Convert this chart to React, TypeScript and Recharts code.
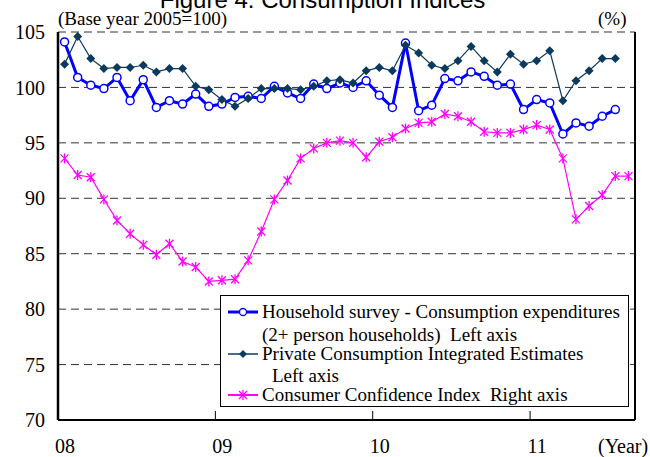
import { CartesianGrid, Line, LineChart, XAxis, YAxis } from "recharts";

// months Jan 2008 .. Aug 2011
const months = Array.from(
  { length: 44 },
  (_, i) => `${2008 + Math.floor(i / 12)}-${String((i % 12) + 1).padStart(2, "0")}`
);
const yearLabels = ["08", "09", "10", "11"];
const yearTicks = [0, 12, 24, 36];
const leftTicks = [70, 75, 80, 85, 90, 95, 100, 105];

const household = [
  104.1, 100.9, 100.2, 99.9, 100.9, 98.8, 100.7, 98.2, 98.8, 98.5, 99.4, 98.3,
  98.5, 99.1, 99.2, 99.0, 100.1, 99.5, 99.0, 100.3, 99.9, 100.4, 100.0, 100.6,
  99.3, 98.2, 104.0, 97.9, 98.4, 100.8, 100.6, 101.4, 101.0, 100.2, 100.3, 98.0,
  98.9, 98.6, 95.8, 96.8, 96.5, 97.4, 98.0, null,
];
const privateCons = [
  102.1, 104.6, 102.6, 101.7, 101.8, 101.8, 102.0, 101.4, 101.7, 101.7, 100.1, 99.8,
  98.9, 98.3, 99.0, 99.9, 99.9, 99.9, 99.8, 100.1, 100.6, 100.7, 100.4, 101.5,
  101.8, 101.5, 103.8, 103.1, 102.0, 101.7, 102.4, 103.7, 102.4, 101.4, 103.0, 102.1,
  102.4, 103.3, 98.8, 100.6, 101.5, 102.6, 102.6, null,
];
// plotted against the right axis (drawn on the same visual scale)
const confidence = [
  93.6, 92.1, 91.9, 89.9, 88.0, 86.8, 85.8, 84.9, 85.9, 84.3, 83.8, 82.5,
  82.6, 82.7, 84.4, 87.0, 89.9, 91.6, 93.6, 94.5, 95.0, 95.2, 95.0, 93.7,
  95.1, 95.5, 96.3, 96.8, 96.9, 97.6, 97.4, 96.9, 96.0, 95.9, 95.9, 96.2,
  96.6, 96.2, 93.6, 88.1, 89.3, 90.3, 92.0, 92.0,
];

const data = months.map((m, i) => ({
  month: m,
  x: i + 0.5,
  household: household[i],
  privateCons: privateCons[i],
  confidence: confidence[i],
}));

const BLUE = "#0000ff";
const NAVY = "#0b3a5e";
const PINK = "#ff00ff";
const SERIF = "'Liberation Serif', 'Times New Roman', serif";

const CircleDot = (p: any) =>
  p.cy == null ? (
    <g key={p.index} />
  ) : (
    <circle key={p.index} cx={p.cx} cy={p.cy} r={4} fill="#fff" stroke={BLUE} strokeWidth={1.5} />
  );

const DiamondDot = (p: any) => {
  if (p.cy == null) return <g key={p.index} />;
  const s = 4.5;
  return (
    <path
      key={p.index}
      d={`M${p.cx},${p.cy - s}L${p.cx + s},${p.cy}L${p.cx},${p.cy + s}L${p.cx - s},${p.cy}Z`}
      fill={NAVY}
    />
  );
};

const StarDot = (p: any) => {
  if (p.cy == null) return <g key={p.index} />;
  const s = 5;
  const d = 4;
  return (
    <g key={p.index} stroke={PINK} strokeWidth={1.3}>
      <line x1={p.cx} y1={p.cy - s} x2={p.cx} y2={p.cy + s} />
      <line x1={p.cx - d} y1={p.cy - d} x2={p.cx + d} y2={p.cy + d} />
      <line x1={p.cx - d} y1={p.cy + d} x2={p.cx + d} y2={p.cy - d} />
    </g>
  );
};

const YearTick = (p: any) => {
  const idx = yearTicks.indexOf(p.payload.value);
  return (
    <g>
      {idx > 0 && <line x1={p.x} y1={420} x2={p.x} y2={411} stroke="#000" strokeWidth={1} />}
      <text
        x={p.x + 7}
        y={453}
        textAnchor="middle"
        fill="#000"
        style={{ fontFamily: SERIF, fontSize: 20 }}
      >
        {yearLabels[idx]}
      </text>
    </g>
  );
};

const LeftTick = (p: any) => (
  <text
    x={p.x}
    y={p.y}
    dy="0.36em"
    textAnchor="end"
    fill="#000"
    style={{ fontFamily: SERIF, fontSize: 20 }}
  >
    {p.payload.value}
  </text>
);

const LegendIcon = ({ kind }: { kind: string }) => (
  <svg width={32} height={14} style={{ display: "block" }}>
    {kind === "household" && (
      <>
        <line x1={1} y1={7} x2={31} y2={7} stroke={BLUE} strokeWidth={3} />
        <circle cx={16} cy={7} r={3.5} fill="#fff" stroke={BLUE} strokeWidth={1.3} />
      </>
    )}
    {kind === "private" && (
      <>
        <line x1={1} y1={7} x2={31} y2={7} stroke="#4a6a8a" strokeWidth={2} />
        <path d="M16,3L20,7L16,11L12,7Z" fill={NAVY} />
      </>
    )}
    {kind === "confidence" && (
      <>
        <line x1={1} y1={7} x2={31} y2={7} stroke={PINK} strokeWidth={2} />
        <g stroke={PINK} strokeWidth={1.3}>
          <line x1={16} y1={2} x2={16} y2={12} />
          <line x1={12} y1={3} x2={20} y2={11} />
          <line x1={12} y1={11} x2={20} y2={3} />
        </g>
      </>
    )}
  </svg>
);

const rowStyle: React.CSSProperties = {
  position: "absolute",
  whiteSpace: "nowrap",
  fontSize: 19,
  lineHeight: "19px",
  fontFamily: SERIF,
};

export default function App() {
  return (
    <div
      style={{
        position: "absolute",
        left: 0,
        top: 0,
        width: 650,
        height: 457,
        overflow: "hidden",
        background: "#fff",
        fontFamily: SERIF,
      }}
    >
      <div
        style={{
          position: "absolute",
          top: -12,
          left: 0,
          width: 645,
          textAlign: "center",
          fontFamily: "'Liberation Sans', Arial, sans-serif",
          fontSize: 24,
          lineHeight: "24px",
        }}
      >
        Figure 4. Consumption Indices
      </div>
      <div style={{ position: "absolute", top: 9, left: 58, fontSize: 19, lineHeight: "19px" }}>
        (Base year 2005=100)
      </div>
      <div style={{ position: "absolute", top: 9, left: 598, fontSize: 19, lineHeight: "19px" }}>
        (%)
      </div>
      <div style={{ position: "absolute", top: 436, left: 598, fontSize: 20, lineHeight: "20px" }}>
        (Year)
      </div>

      <LineChart
        width={650}
        height={457}
        data={data}
        margin={{ top: 32, right: 0, bottom: 0, left: 0 }}
        style={{ position: "absolute", left: 0, top: 0, fontFamily: SERIF }}
      >
        <CartesianGrid
          yAxisId="left"
          vertical={false}
          stroke="#333"
          strokeDasharray="8 5"
          strokeWidth={1}
        />
        <XAxis
          dataKey="x"
          type="number"
          domain={[0, 44]}
          ticks={yearTicks}
          height={37}
          tickSize={0}
          tickLine={false}
          axisLine={{ stroke: "#000", strokeWidth: 2 }}
          tick={<YearTick />}
          interval={0}
        />
        <YAxis
          yAxisId="left"
          domain={[70, 105]}
          ticks={leftTicks}
          width={58}
          tickSize={0}
          tickMargin={13}
          tickLine={false}
          axisLine={{ stroke: "#000", strokeWidth: 2.5 }}
          tick={<LeftTick />}
          allowDataOverflow
        />
        <YAxis
          yAxisId="right"
          orientation="right"
          domain={[70, 105]}
          ticks={leftTicks}
          width={15}
          tick={false}
          tickLine={false}
          axisLine={{ stroke: "#000", strokeWidth: 2 }}
          allowDataOverflow
        />
        <Line
          yAxisId="left"
          type="linear"
          dataKey="household"
          stroke={BLUE}
          strokeWidth={3}
          dot={CircleDot}
          activeDot={false}
          connectNulls={false}
          isAnimationActive={false}
        />
        <Line
          yAxisId="left"
          type="linear"
          dataKey="privateCons"
          stroke={NAVY}
          strokeWidth={1.2}
          dot={DiamondDot}
          activeDot={false}
          isAnimationActive={false}
        />
        <Line
          yAxisId="right"
          type="linear"
          dataKey="confidence"
          stroke={PINK}
          strokeWidth={1.2}
          dot={StarDot}
          activeDot={false}
          isAnimationActive={false}
        />
      </LineChart>

      <div
        style={{
          position: "absolute",
          left: 220,
          top: 295,
          width: 407,
          height: 110,
          border: "1px solid #000",
          background: "#fff",
        }}
      >
        <div style={{ position: "absolute", left: 6, top: 9 }}>
          <LegendIcon kind="household" />
        </div>
        <div style={{ ...rowStyle, left: 41, top: 6 }}>Household survey - Consumption expenditures</div>
        <div style={{ ...rowStyle, left: 41, top: 29 }}>(2+ person households)&nbsp; Left axis</div>
        <div style={{ position: "absolute", left: 6, top: 51 }}>
          <LegendIcon kind="private" />
        </div>
        <div style={{ ...rowStyle, left: 41, top: 48 }}>Private Consumption Integrated Estimates</div>
        <div style={{ ...rowStyle, left: 51, top: 70 }}>Left axis</div>
        <div style={{ position: "absolute", left: 6, top: 92 }}>
          <LegendIcon kind="confidence" />
        </div>
        <div style={{ ...rowStyle, left: 41, top: 89 }}>Consumer Confidence Index&nbsp; Right axis</div>
      </div>
    </div>
  );
}
